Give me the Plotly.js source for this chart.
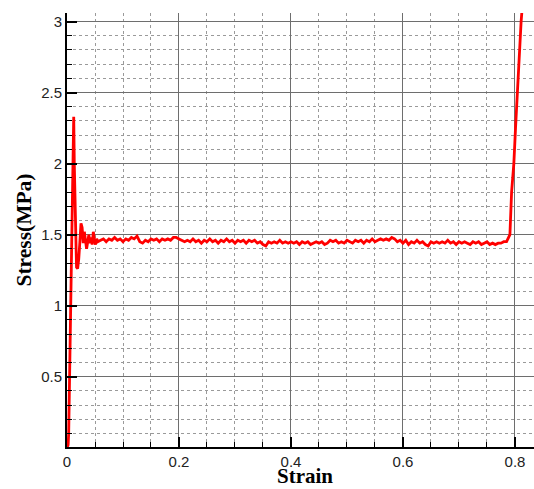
<!DOCTYPE html>
<html>
<head>
<meta charset="utf-8">
<script src="https://cdn.plot.ly/plotly-3.0.1.min.js"></script>
<style>html,body{margin:0;padding:0;background:#fff;}#chart{width:534px;height:489px;}</style>
</head>
<body>
<div id="chart"></div>
<script>
// Loading stage (elastic rise, peak and first oscillations)
const strainStart = [0.000,0.002,0.003,0.004,0.006,0.008,0.010,0.011,0.012,0.013,0.015,0.017,0.019,0.021,0.023,0.025,0.027,0.029,0.031,0.033,0.035,0.037,0.039,0.041,0.043,0.045,0.047,0.049,0.051,0.053,0.055];
const stressStart = [0.00,0.02,0.10,0.35,0.72,1.15,1.70,2.10,2.33,2.00,1.50,1.27,1.26,1.33,1.45,1.58,1.55,1.44,1.52,1.47,1.40,1.45,1.50,1.44,1.48,1.43,1.52,1.46,1.43,1.47,1.45];

// Plateau stage
const strainPlateau = [0.060,0.065,0.070,0.075,0.080,0.085,0.090,0.095,0.100,0.105,0.110,0.115,0.120,0.125,0.130,0.135,0.140,0.145,0.150,0.155,0.160,0.165,0.170,0.175,0.180,0.185,0.190,0.195,0.200,0.205,0.210,0.215,0.220,0.225,0.230,0.235,0.240,0.245,0.250,0.255,0.260,0.265,0.270,0.275,0.280,0.285,0.290,0.295,0.300,0.305,0.310,0.315,0.320,0.325,0.330,0.335,0.340,0.345,0.350,0.355,0.360,0.365,0.370,0.375,0.380,0.385,0.390,0.395,0.400,0.405,0.410,0.415,0.420,0.425,0.430,0.435,0.440,0.445,0.450,0.455,0.460,0.465,0.470,0.475,0.480,0.485,0.490,0.495,0.500,0.505,0.510,0.515,0.520,0.525,0.530,0.535,0.540,0.545,0.550,0.555,0.560,0.565,0.570,0.575,0.580,0.585,0.590,0.595,0.600,0.605,0.610,0.615,0.620,0.625,0.630,0.635,0.640,0.645,0.650,0.655,0.660,0.665,0.670,0.675,0.680,0.685,0.690,0.695,0.700,0.705,0.710,0.715,0.720,0.725,0.730,0.735,0.740,0.745,0.750,0.755,0.760,0.765,0.770,0.775,0.780,0.785];
const stressPlateau = [1.46,1.47,1.45,1.47,1.46,1.48,1.46,1.47,1.45,1.47,1.46,1.48,1.47,1.49,1.45,1.44,1.46,1.45,1.47,1.46,1.47,1.45,1.47,1.46,1.47,1.46,1.48,1.48,1.47,1.46,1.45,1.46,1.45,1.47,1.45,1.46,1.44,1.46,1.45,1.47,1.45,1.46,1.44,1.46,1.45,1.47,1.45,1.46,1.44,1.46,1.45,1.46,1.44,1.46,1.45,1.46,1.44,1.45,1.43,1.42,1.45,1.44,1.45,1.44,1.46,1.44,1.45,1.44,1.45,1.44,1.45,1.43,1.45,1.44,1.45,1.43,1.44,1.45,1.44,1.45,1.43,1.44,1.46,1.45,1.46,1.44,1.45,1.44,1.46,1.45,1.44,1.46,1.45,1.46,1.44,1.46,1.45,1.47,1.45,1.46,1.47,1.46,1.47,1.46,1.48,1.47,1.45,1.46,1.44,1.46,1.43,1.45,1.44,1.46,1.44,1.45,1.43,1.42,1.45,1.44,1.45,1.44,1.45,1.44,1.46,1.44,1.45,1.43,1.45,1.44,1.45,1.44,1.43,1.45,1.44,1.45,1.43,1.44,1.45,1.43,1.44,1.43,1.44,1.44,1.45,1.45];

// Densification stage
const strainEnd = [0.788,0.791,0.794,0.798,0.801,0.804,0.808,0.811,0.814];
const stressEnd = [1.48,1.50,1.80,2.00,2.25,2.50,2.80,3.00,3.15];

const xTickLabels = ['0','0.2','0.4','0.6','0.8'];
const yTickLabels = ['0.5','1','1.5','2','2.5','3'];

const strain = strainStart.concat(strainPlateau, strainEnd);
const stress = stressStart.concat(stressPlateau, stressEnd);

const trace = {
  x: strain, y: stress, type: 'scatter', mode: 'lines',
  line: {color: '#ff0000', width: 2.8}, hoverinfo: 'skip'
};

const tickFont = {family: 'Liberation Sans, Arial, sans-serif', size: 15, color: '#222'};
const titleFont = {family: 'Liberation Serif, Times New Roman, serif', size: 21, color: '#000', weight: 'bold'};
const yTitleFont = {family: 'Liberation Serif, Times New Roman, serif', size: 21.5, color: '#000', weight: 'bold'};

const layout = {
  width: 534, height: 489,
  margin: {l: 67, r: 0, t: 13, b: 42},
  paper_bgcolor: '#fff', plot_bgcolor: '#fff',
  showlegend: false,
  xaxis: {
    range: [0, 0.834],
    tickmode: 'array', tickvals: xTickLabels.map(Number), ticktext: xTickLabels,
    ticks: 'inside', ticklen: 10, tickwidth: 2, tickcolor: '#000',
    showline: true, linecolor: '#000', linewidth: 2,
    showgrid: true, gridcolor: '#6e6e6e', gridwidth: 1,
    zeroline: false,
    tickfont: tickFont,
    minor: {tickmode: 'linear', tick0: 0, dtick: 0.05, ticks: 'inside', ticklen: 5, tickwidth: 1, tickcolor: '#000',
            showgrid: true, gridcolor: '#9a9a9a', griddash: 'dot', gridwidth: 1}
  },
  yaxis: {
    range: [0.005, 3.06],
    tickmode: 'array', tickvals: yTickLabels.map(Number), ticktext: yTickLabels,
    ticks: 'inside', ticklen: 10, tickwidth: 2, tickcolor: '#000',
    showline: true, linecolor: '#000', linewidth: 2,
    showgrid: true, gridcolor: '#6e6e6e', gridwidth: 1,
    zeroline: false,
    tickfont: tickFont,
    minor: {tickmode: 'linear', tick0: 0, dtick: 0.1, ticks: 'inside', ticklen: 5, tickwidth: 1, tickcolor: '#000',
            showgrid: true, gridcolor: '#9a9a9a', griddash: 'dot', gridwidth: 1},
    title: {text: 'Stress(MPa)', font: yTitleFont, standoff: 4}
  },
  annotations: [{
    text: 'Strain', font: titleFont, showarrow: false, borderpad: 0,
    xref: 'paper', yref: 'paper', x: 0.51, y: -0.0968,
    xanchor: 'center', yanchor: 'bottom'
  }]
};

Plotly.newPlot('chart', [trace], layout, {displayModeBar: false, staticPlot: true});
</script>
</body>
</html>
